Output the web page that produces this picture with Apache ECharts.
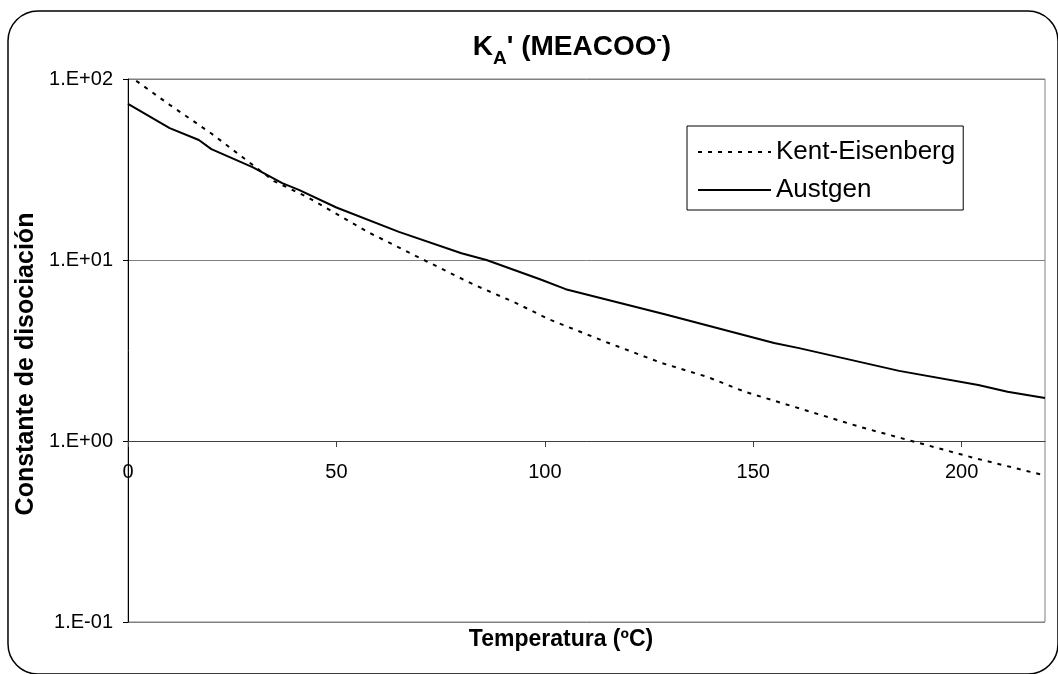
<!DOCTYPE html>
<html>
<head>
<meta charset="utf-8">
<script src="https://cdn.jsdelivr.net/npm/echarts@6/dist/echarts.min.js"></script>
<style>html,body{margin:0;padding:0;background:#fff}#c{width:1058px;height:674px}</style>
</head>
<body>
<div id="c"></div>
<script>
// ---- data ----
const keTemps   = [0, 3, 10, 20, 35, 43, 58, 71, 83, 93, 101, 115, 128, 139, 148, 160, 176, 188, 203, 220];
const keValues  = [105, 94, 72, 50, 27.3, 22.3, 14.1, 10.0, 7.3, 5.8, 4.7, 3.5, 2.70, 2.26, 1.87, 1.54, 1.19, 1.0, 0.806, 0.645];
const auTemps   = [0, 10, 17, 20, 30, 37, 41, 50, 65, 80, 86, 99, 105, 129, 155, 161, 185, 204, 211, 220];
const auValues  = [72.8, 53.5, 46, 41, 32.5, 26.6, 24.4, 19.5, 14.3, 10.9, 10.0, 7.8, 6.9, 5.0, 3.48, 3.26, 2.44, 2.04, 1.87, 1.73];
const xTicks = [0, 50, 100, 150, 200];
const yTickValues = [0.1, 1, 10, 100];
const yTickLabels = ['1.E-01', '1.E+00', '1.E+01', '1.E+02'];
const seriesNames = ['Kent-Eisenberg', 'Austgen'];

const FONT = 'Liberation Sans, Arial, sans-serif';
const pairs = (xs, ys) => xs.map((x, i) => [x, ys[i]]);

const chart = echarts.init(document.getElementById('c'), null, {renderer: 'canvas'});
chart.setOption({
  animation: false,
  backgroundColor: '#fff',
  textStyle: {fontFamily: FONT},
  grid: {left: 128, top: 79, right: 13, bottom: 52, show: true, borderColor: '#808080', borderWidth: 1, backgroundColor: '#fff'},
  xAxis: {
    type: 'value', min: 0, max: 220, interval: 50, position: 'bottom', offset: -181,
    axisLine: {show: true, lineStyle: {color: '#404040', width: 1}},
    axisTick: {show: true, length: 6, lineStyle: {color: '#404040'}, customValues: xTicks},
    axisLabel: {color: '#000', fontSize: 20, fontFamily: FONT, margin: 21, customValues: xTicks},
    splitLine: {show: false}
  },
  yAxis: {
    type: 'log', logBase: 10, min: 0.1, max: 100,
    axisLine: {show: true, lineStyle: {color: '#000', width: 1}},
    axisTick: {show: true, length: 5, lineStyle: {color: '#000'}},
    axisLabel: {color: '#000', fontSize: 20, fontFamily: FONT, margin: 15,
      formatter: v => { const i = yTickValues.findIndex(t => Math.abs(Math.log10(t) - Math.log10(v)) < 1e-6); return i >= 0 ? yTickLabels[i] : ''; }},
    splitLine: {show: true, lineStyle: {color: '#808080', width: 1}},
    minorTick: {show: false}, minorSplitLine: {show: false}
  },
  legend: {
    orient: 'vertical', left: 687, top: 126,
    padding: [13, 8, 7, 10], itemGap: 12, itemWidth: 73, itemHeight: 14,
    borderColor: '#000', borderWidth: 1, backgroundColor: '#fff',
    itemStyle: {opacity: 0},
    textStyle: {color: '#000', fontSize: 26, fontFamily: FONT},
    data: seriesNames
  },
  series: [
    {name: seriesNames[0], type: 'line', data: pairs(keTemps, keValues), showSymbol: false, symbol: 'none', clip: true,
     lineStyle: {color: '#000', width: 2, type: [4, 6]}, itemStyle: {color: '#000'}},
    {name: seriesNames[1], type: 'line', data: pairs(auTemps, auValues), showSymbol: false, symbol: 'none', clip: true,
     lineStyle: {color: '#000', width: 2, type: 'solid'}, itemStyle: {color: '#000'}}
  ],
  graphic: [
    {type: 'rect', z: -10, silent: true, shape: {x: 8, y: 11, width: 1050, height: 663, r: 30},
     style: {fill: 'none', stroke: '#000', lineWidth: 1.5}},
    {type: 'text', x: 572, y: 47, z: 10, style: {
      text: '{a|K}{sub|A}{a|\' (MEACOO}{sup|-}{a|)}', align: 'center', verticalAlign: 'middle',
      rich: {
        a: {fontSize: 28, fontWeight: 'bold', fontFamily: FONT, fill: '#000', lineHeight: 30},
        sub: {fontSize: 19, fontWeight: 'bold', fontFamily: FONT, fill: '#000', lineHeight: 19, verticalAlign: 'bottom', padding: [0, 0, -6, 0]},
        sup: {fontSize: 16, fontWeight: 'bold', fontFamily: FONT, fill: '#000', lineHeight: 16, verticalAlign: 'top'}
      }}},
    {type: 'text', x: 561, y: 640, style: {text: 'Temperatura (ºC)', align: 'center', verticalAlign: 'middle',
      fontSize: 23, fontWeight: 'bold', fontFamily: FONT, fill: '#000'}},
    {type: 'text', x: 26, y: 364, rotation: Math.PI / 2, style: {text: 'Constante de disociación', align: 'center', verticalAlign: 'middle',
      fontSize: 25, fontWeight: 'bold', fontFamily: FONT, fill: '#000'}}
  ]
});
</script>
</body>
</html>
